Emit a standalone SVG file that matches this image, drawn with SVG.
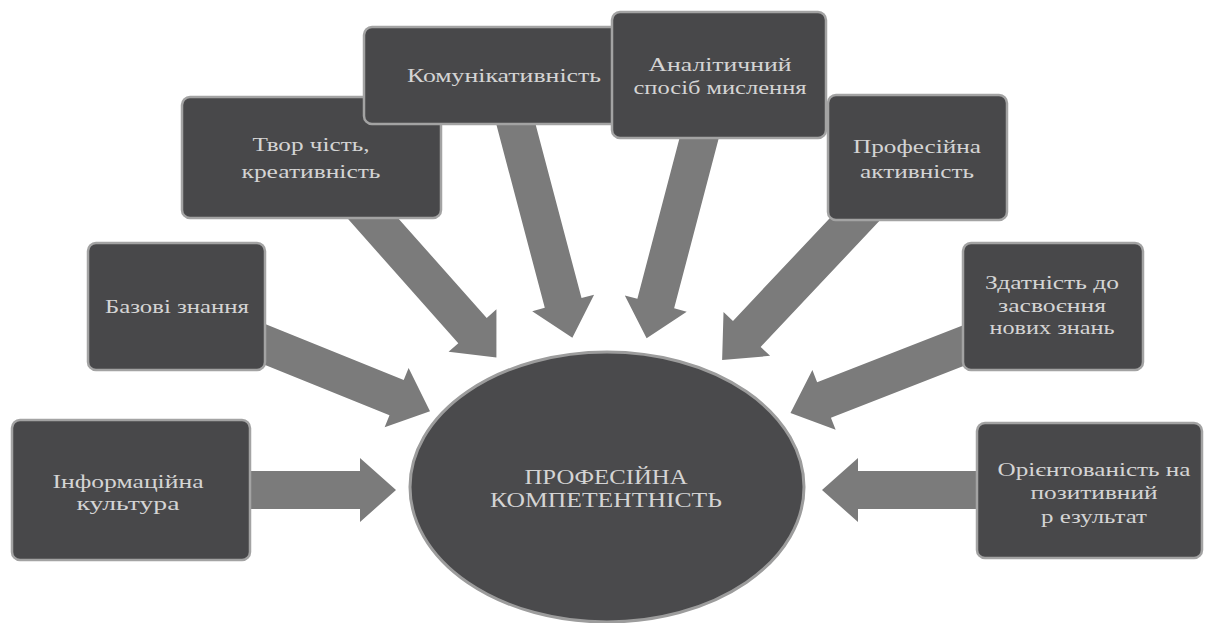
<svg xmlns="http://www.w3.org/2000/svg" width="1213" height="623" viewBox="0 0 1213 623">
<style>
.box{fill:#48484a;stroke:#a3a3a3;stroke-width:2.5}
.ell{fill:#4a4a4c;stroke:#9c9c9c;stroke-width:3}
.arr{fill:#7b7b7b}
.t{font-family:"Liberation Serif","Times New Roman",serif;font-size:19px;fill:#d4d4d4;text-anchor:middle}
.c{font-family:"Liberation Serif","Times New Roman",serif;font-size:21px;fill:#d4d4d4;text-anchor:middle}
</style>
<rect width="1213" height="623" fill="#ffffff"/>
<g id="connectors">
<polygon class="arr" transform="translate(230,490)" points="0,-19 130,-19 130,-32 166,0 130,32 130,19 0,19"/>
<polygon class="arr" transform="translate(995,490) rotate(180)" points="0,-19 137,-19 137,-32 173,0 137,32 137,19 0,19"/>
<polygon class="arr" transform="translate(239,334) rotate(22)" points="0,-19 170,-19 170,-32 206,0 170,32 170,19 0,19"/>
<polygon class="arr" transform="translate(353,196) rotate(48.4)" points="0,-19 180,-19 180,-32 216,0 180,32 180,19 0,19"/>
<polygon class="arr" transform="translate(509,98) rotate(75.2)" points="0,-19 212,-19 212,-32 248,0 212,32 212,19 0,19"/>
<polygon class="arr" transform="translate(706,112) rotate(104.7)" points="0,-19 198,-19 198,-32 234,0 198,32 198,19 0,19"/>
<polygon class="arr" transform="translate(873,200) rotate(133.3)" points="0,-19 184,-19 184,-32 220,0 184,32 184,19 0,19"/>
<polygon class="arr" transform="translate(988,336) rotate(158.7)" points="0,-19 176,-19 176,-32 212,0 176,32 176,19 0,19"/>
</g>
<g id="center">
<ellipse class="ell" cx="607" cy="487" rx="197" ry="135"/>
<text class="c" x="606" y="484" textLength="163" lengthAdjust="spacingAndGlyphs">ПРОФЕСІЙНА</text>
<text class="c" x="606" y="507" textLength="232" lengthAdjust="spacingAndGlyphs">КОМПЕТЕНТНІСТЬ</text>
</g>
<g id="node-info">
<rect class="box" x="12" y="420" width="238" height="140" rx="8"/>
<text class="t" x="128" y="488" textLength="151" lengthAdjust="spacingAndGlyphs">Інформаційна</text>
<text class="t" x="128" y="510" textLength="103" lengthAdjust="spacingAndGlyphs">культура</text>
</g>
<g id="node-bazovi">
<rect class="box" x="88" y="243" width="177" height="127" rx="8"/>
<text class="t" x="177" y="313" textLength="144" lengthAdjust="spacingAndGlyphs">Базові знання</text>
</g>
<g id="node-tvorchist">
<rect class="box" x="182" y="97" width="259" height="121" rx="8"/>
<text class="t" x="311" y="151" textLength="117" lengthAdjust="spacingAndGlyphs">Твор чість,</text>
<text class="t" x="311" y="178" textLength="139" lengthAdjust="spacingAndGlyphs">креативність</text>
</g>
<g id="node-komun">
<rect class="box" x="364" y="27" width="280" height="97" rx="8"/>
<text class="t" x="504" y="82" textLength="194" lengthAdjust="spacingAndGlyphs">Комунікативність</text>
</g>
<g id="node-analit">
<rect class="box" x="612" y="12" width="214" height="126" rx="8"/>
<text class="t" x="720" y="71" textLength="143" lengthAdjust="spacingAndGlyphs">Аналітичний</text>
<text class="t" x="720" y="94" textLength="173" lengthAdjust="spacingAndGlyphs">спосіб мислення</text>
</g>
<g id="node-profakt">
<rect class="box" x="828" y="95" width="179" height="125" rx="8"/>
<text class="t" x="917" y="153" textLength="128" lengthAdjust="spacingAndGlyphs">Професійна</text>
<text class="t" x="917" y="178" textLength="114" lengthAdjust="spacingAndGlyphs">активність</text>
</g>
<g id="node-zdatnist">
<rect class="box" x="963" y="243" width="180" height="127" rx="8"/>
<text class="t" x="1052" y="289" textLength="134" lengthAdjust="spacingAndGlyphs">Здатність до</text>
<text class="t" x="1052" y="312" textLength="108" lengthAdjust="spacingAndGlyphs">засвоєння</text>
<text class="t" x="1052" y="334" textLength="125" lengthAdjust="spacingAndGlyphs">нових знань</text>
</g>
<g id="node-orient">
<rect class="box" x="977" y="423" width="225" height="135" rx="8"/>
<text class="t" x="1094" y="476" textLength="193" lengthAdjust="spacingAndGlyphs">Орієнтованість на</text>
<text class="t" x="1094" y="499" textLength="127" lengthAdjust="spacingAndGlyphs">позитивний</text>
<text class="t" x="1094" y="523" textLength="106" lengthAdjust="spacingAndGlyphs">р езультат</text>
</g>
</svg>
